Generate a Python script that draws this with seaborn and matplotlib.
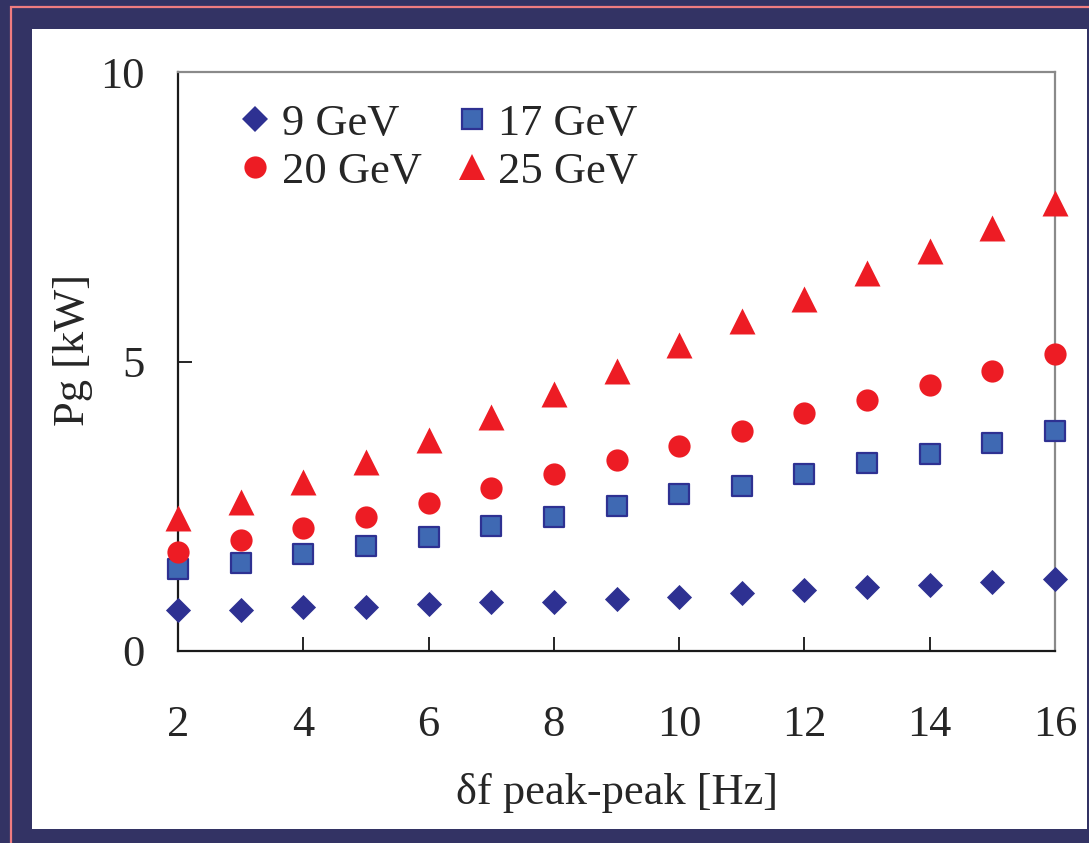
import numpy as np
import pandas as pd
import matplotlib
matplotlib.use("Agg")
import matplotlib.pyplot as plt
import seaborn as sns
from matplotlib.patches import Rectangle
from matplotlib.lines import Line2D

# ---- data ----
freq_hz = [2, 3, 4, 5, 6, 7, 8, 9, 10, 11, 12, 13, 14, 15, 16]
p_9gev = [0.71, 0.71, 0.76, 0.76, 0.81, 0.85, 0.85, 0.90, 0.93, 1.00, 1.05, 1.10, 1.14, 1.19, 1.24]
p_17gev = [1.42, 1.52, 1.68, 1.81, 1.97, 2.16, 2.31, 2.50, 2.71, 2.85, 3.06, 3.25, 3.40, 3.59, 3.80]
p_20gev = [1.71, 1.92, 2.12, 2.31, 2.56, 2.82, 3.06, 3.30, 3.54, 3.80, 4.11, 4.34, 4.59, 4.84, 5.13]
p_25gev = [2.30, 2.57, 2.92, 3.26, 3.64, 4.04, 4.44, 4.84, 5.28, 5.70, 6.08, 6.52, 6.90, 7.31, 7.74]
series_labels = ["9 GeV", "17 GeV", "20 GeV", "25 GeV"]
x_ticks = [2, 4, 6, 8, 10, 12, 14, 16]
y_ticks = [0, 5, 10]

sns.set_style("ticks")
plt.rcParams["font.family"] = ["Liberation Serif", "DejaVu Serif"]

W, H = 1089, 843
fig = plt.figure(figsize=(W / 100, H / 100), dpi=100)
fig.patch.set_facecolor("#333364")

# decorative pink frame line and white panel
fig.patches.append(Rectangle((11 / W, -0.2), 1.3, (1 - 7 / H) + 0.2, transform=fig.transFigure,
                             facecolor="none", edgecolor="#F07C80", linewidth=1.6, zorder=-3))
fig.patches.append(Rectangle((32 / W, 1 - 829 / H), (1087 - 32) / W, (829 - 29) / H,
                             transform=fig.transFigure, facecolor="white", edgecolor="none", zorder=-2))

ax = fig.add_axes([178 / W, 1 - 651 / H, (1055 - 178) / W, (651 - 72) / H])
ax.set_facecolor("white")

data = pd.DataFrame({
    "freq": freq_hz * 4,
    "power": p_9gev + p_17gev + p_20gev + p_25gev,
    "beam": sum([[lab] * len(freq_hz) for lab in series_labels], []),
})

styles = {
    "9 GeV": dict(marker="D", ms=12.8, face="#2E3192", edge="#2E3192", lw=0.0),
    "17 GeV": dict(marker="s", ms=14.3, face="#3F69B3", edge="#2E3192", lw=1.6),
    "20 GeV": dict(marker="o", ms=16.0, face="#ED1C24", edge="#ED1C24", lw=0.0),
    "25 GeV": dict(marker="^", ms=18.7, face="#ED1C24", edge="#ED1C24", lw=0.0),
}

for lab in series_labels:
    st = styles[lab]
    sub = data[data["beam"] == lab]
    sns.scatterplot(data=sub, x="freq", y="power", ax=ax, marker=st["marker"],
                    s=st["ms"] ** 2, color=st["face"], edgecolor=st["edge"],
                    linewidth=st["lw"], legend=False, clip_on=False, zorder=3)

ax.set_xlim(2, 16)
ax.set_ylim(0, 10)
ax.set_xticks(x_ticks)
ax.set_yticks(y_ticks)
ax.tick_params(axis="both", direction="in", length=10, width=1.2, color="black", labelsize=32)
ax.tick_params(axis="x", pad=39)
ax.tick_params(axis="y", pad=24)

for side in ["left", "bottom"]:
    ax.spines[side].set_color("#1a1a1a")
    ax.spines[side].set_linewidth(1.6)
for side in ["top", "right"]:
    ax.spines[side].set_visible(True)
    ax.spines[side].set_color("#8a8a8a")
    ax.spines[side].set_linewidth(1.6)

ax.set_xlabel("δf peak-peak [Hz]", fontsize=32, labelpad=20)
ax.set_ylabel("Pg [kW]", fontsize=32)
ax.yaxis.set_label_coords(-0.097, 0.52)

handles = []
for lab in series_labels:
    st = styles[lab]
    handles.append(Line2D([], [], linestyle="none", marker=st["marker"], markersize=st["ms"],
                          markerfacecolor=st["face"], markeredgecolor=st["edge"],
                          markeredgewidth=st["lw"], label=lab))
order = [0, 2, 1, 3]
ax.legend([handles[i] for i in order], [series_labels[i] for i in order], ncol=2,
          frameon=False, fontsize=32, loc="upper left",
          bbox_to_anchor=(233 / W, 1 - 103.5 / H), bbox_transform=fig.transFigure,
          borderpad=0, borderaxespad=0, handlelength=1.0, handletextpad=0.1,
          columnspacing=0.62, labelspacing=0.18)

fig.savefig("out.png", dpi=100, facecolor=fig.get_facecolor())
